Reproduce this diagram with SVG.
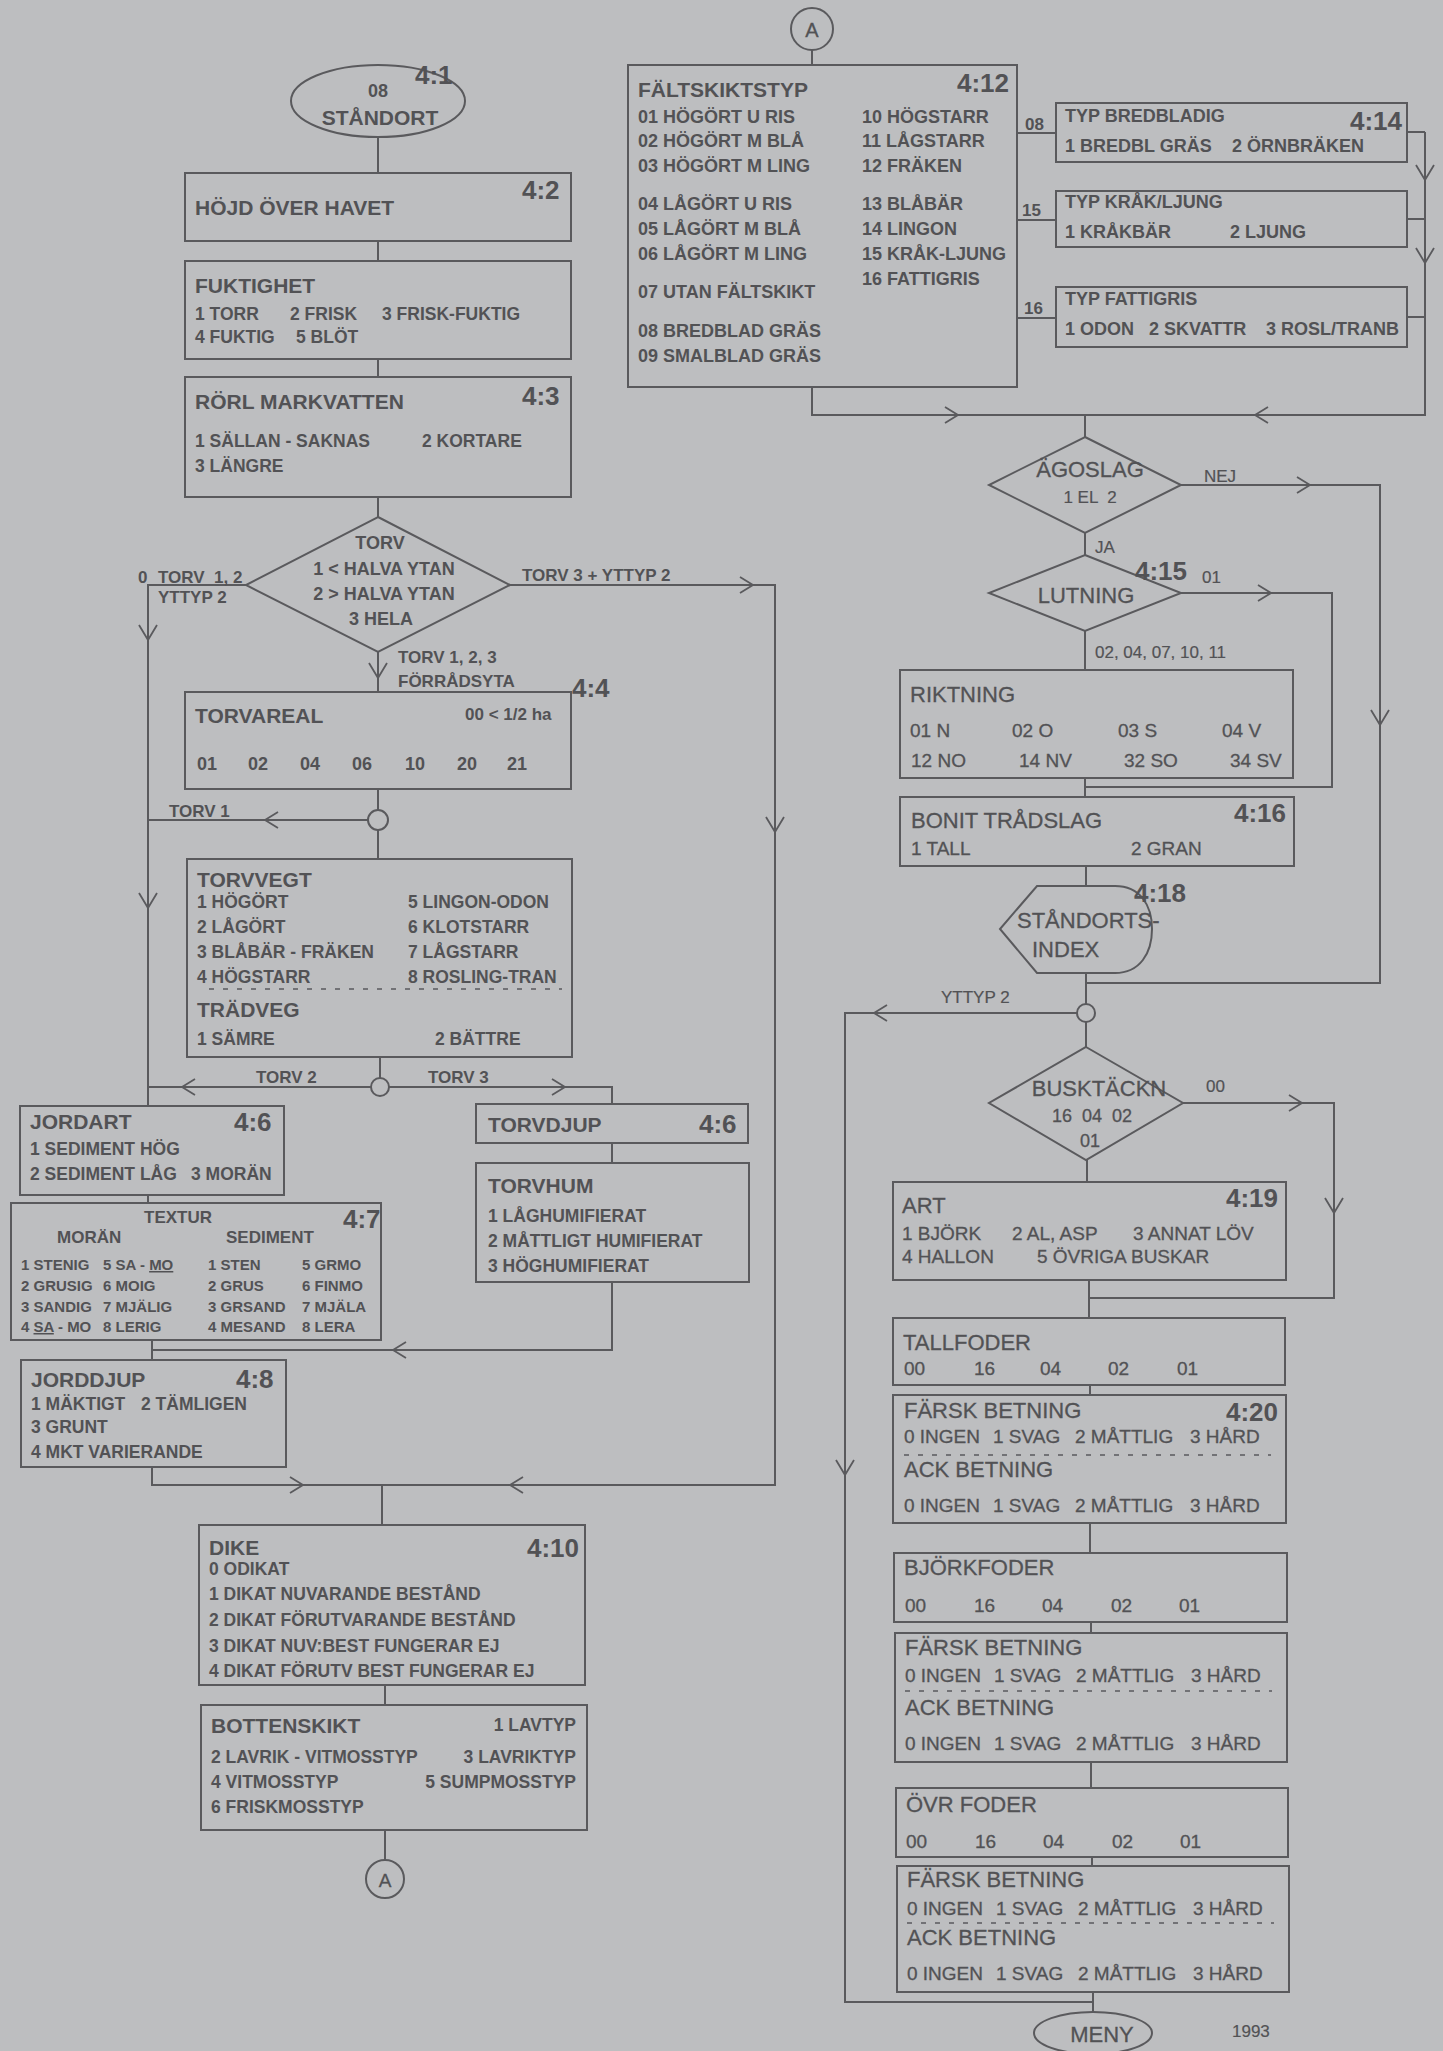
<svg xmlns="http://www.w3.org/2000/svg" xmlns:xlink="http://www.w3.org/1999/xlink" width="1443" height="2051" viewBox="0 0 1443 2051">
<style>
.box{fill:none;stroke:#5a5a5d;stroke-width:2}
.ln{fill:none;stroke:#5a5a5d;stroke-width:2}
.ch{fill:none;stroke:#5a5a5d;stroke-width:1.8}
.dash{fill:none;stroke:#5a5a5d;stroke-width:1.5;stroke-dasharray:5 9}
text{font-family:"Liberation Sans",Arial,sans-serif;fill:#525255;white-space:pre}
.t{font-size:21px;font-weight:bold}
.o{font-size:17.5px;font-weight:bold}
.s{font-size:15px;font-weight:bold}
.n{font-size:26px;font-weight:bold}
.l{font-size:17px;font-weight:bold}
.u{font-size:18px;font-weight:bold}
.rt{font-size:22px;stroke:#525255;stroke-width:0.3}
.ro{font-size:19px;stroke:#525255;stroke-width:0.3}
.rl{font-size:17px;stroke:#525255;stroke-width:0.2}
.m{text-anchor:middle}
.e{text-anchor:end}
</style>
<defs>
<path id="chR" class="ch" d="M-13,-8 L0,0 L-13,8"/>
<path id="chL" class="ch" d="M13,-8 L0,0 L13,8"/>
<path id="chD" class="ch" d="M-9,-15 L0,0 L9,-15"/>
</defs>
<rect x="0" y="0" width="1443" height="2051" fill="#bdbec0"/>

<g id="connectors">
<path class="ln" d="M378,137 V173 M378,241 V261 M378,359 V377 M378,497 V517 M378,652 V692 M378,789 V810 M378,830 V859 M380,1057 V1078"/>
<path class="ln" d="M246,585 H148 V1106"/>
<path class="ln" d="M510,585 H775 V1485 H152 V1467"/>
<path class="ln" d="M368,820 H148"/>
<path class="ln" d="M148,1087 H371 M389,1087 H612 V1104"/>
<path class="ln" d="M148,1195 V1203"/>
<path class="ln" d="M612,1143 V1163"/>
<path class="ln" d="M612,1282 V1350 H152 M152,1340 V1360"/>
<path class="ln" d="M382,1485 V1525 M385,1685 V1705 M385,1830 V1860"/>
<path class="ln" d="M812,50 V65 M812,387 V415 H1425 V132 M1407,132 H1425 M1407,219 H1425 M1407,317 H1425"/>
<path class="ln" d="M1017,133 H1056 M1017,220 H1056 M1017,318 H1056"/>
<path class="ln" d="M1085,415 V437 M1085,533 V555 M1085,631 V670 M1085,778 V797 M1086,866 V886 M1086,973 V1004 M1086,1022 V1047 M1087,1160 V1182 M1089,1280 V1318 M1090,1385 V1395 M1090,1523 V1553 M1091,1622 V1633 M1091,1762 V1788 M1092,1857 V1866 M1093,1992 V2012"/>
<path class="ln" d="M1181,485 H1380 V983 H1086"/>
<path class="ln" d="M1181,593 H1332 V787 H1085"/>
<path class="ln" d="M1077,1013 H845 V2002 H1093"/>
<path class="ln" d="M1183,1103 H1334 V1298 H1089"/>
<use xlink:href="#chR" x="753" y="585"/>
<use xlink:href="#chD" x="148" y="640"/>
<use xlink:href="#chD" x="378" y="678"/>
<use xlink:href="#chL" x="265" y="820"/>
<use xlink:href="#chD" x="148" y="908"/>
<use xlink:href="#chD" x="775" y="832"/>
<use xlink:href="#chL" x="182" y="1087"/>
<use xlink:href="#chR" x="565" y="1087"/>
<use xlink:href="#chL" x="393" y="1350"/>
<use xlink:href="#chR" x="303" y="1485"/>
<use xlink:href="#chL" x="510" y="1485"/>
<use xlink:href="#chD" x="1425" y="180"/>
<use xlink:href="#chD" x="1425" y="263"/>
<use xlink:href="#chR" x="958" y="415"/>
<use xlink:href="#chL" x="1255" y="415"/>
<use xlink:href="#chR" x="1310" y="485"/>
<use xlink:href="#chD" x="1380" y="725"/>
<use xlink:href="#chR" x="1271" y="593"/>
<use xlink:href="#chL" x="874" y="1013"/>
<use xlink:href="#chR" x="1302" y="1103"/>
<use xlink:href="#chD" x="1334" y="1213"/>
<use xlink:href="#chD" x="845" y="1475"/>
<text class="l" x="138" y="583">0</text>
<text class="l" x="158" y="583">TORV  1, 2</text>
<text class="l" x="158" y="603">YTTYP 2</text>
<text class="l" x="522" y="581">TORV 3 + YTTYP 2</text>
<text class="l" x="398" y="663">TORV 1, 2, 3</text>
<text class="l" x="398" y="687">FÖRRÅDSYTA</text>
<text class="l" x="169" y="817">TORV 1</text>
<text class="l" x="256" y="1083">TORV 2</text>
<text class="l" x="428" y="1083">TORV 3</text>
<text class="l" x="1025" y="130">08</text>
<text class="l" x="1022" y="216">15</text>
<text class="l" x="1024" y="314">16</text>
<text class="rl" x="1204" y="482">NEJ</text>
<text class="rl" x="1095" y="553">JA</text>
<text class="rl" x="1202" y="583">01</text>
<text class="rl" x="1095" y="658">02, 04, 07, 10, 11</text>
<text class="rl" x="941" y="1003">YTTYP 2</text>
<text class="rl" x="1206" y="1092">00</text>
</g>

<g id="standort">
<ellipse class="box" cx="378" cy="101" rx="87" ry="36"/>
<text class="u m" x="378" y="97">08</text>
<text class="t m" x="380" y="125">STÅNDORT</text>
<text class="n" x="415" y="84">4:1</text>
</g>

<g id="hojd">
<rect class="box" x="185" y="173" width="386" height="68"/>
<text class="t" x="195" y="215">HÖJD ÖVER HAVET</text>
<text class="n" x="522" y="199">4:2</text>
</g>

<g id="fuktighet">
<rect class="box" x="185" y="261" width="386" height="98"/>
<text class="t" x="195" y="293">FUKTIGHET</text>
<text class="o" x="195" y="320">1 TORR</text>
<text class="o" x="290" y="320">2 FRISK</text>
<text class="o" x="382" y="320">3 FRISK-FUKTIG</text>
<text class="o" x="195" y="343">4 FUKTIG</text>
<text class="o" x="296" y="343">5 BLÖT</text>
</g>

<g id="rorl">
<rect class="box" x="185" y="377" width="386" height="120"/>
<text class="t" x="195" y="409">RÖRL MARKVATTEN</text>
<text class="n" x="522" y="405">4:3</text>
<text class="o" x="195" y="447">1 SÄLLAN - SAKNAS</text>
<text class="o" x="422" y="447">2 KORTARE</text>
<text class="o" x="195" y="472">3 LÄNGRE</text>
</g>

<g id="torv">
<polygon class="box" points="378,517 510,585 378,652 246,585"/>
<text class="u m" x="380" y="549">TORV</text>
<text class="u m" x="384" y="575">1 &lt; HALVA YTAN</text>
<text class="u m" x="384" y="600">2 &gt; HALVA YTAN</text>
<text class="u m" x="381" y="625">3 HELA</text>
</g>

<g id="torvareal">
<rect class="box" x="185" y="692" width="386" height="97"/>
<text class="t" x="195" y="723">TORVAREAL</text>
<text class="l" x="465" y="720">00 &lt; 1/2 ha</text>
<text class="n" x="572" y="697">4:4</text>
<text class="u" x="197" y="770">01</text>
<text class="u" x="248" y="770">02</text>
<text class="u" x="300" y="770">04</text>
<text class="u" x="352" y="770">06</text>
<text class="u" x="405" y="770">10</text>
<text class="u" x="457" y="770">20</text>
<text class="u" x="507" y="770">21</text>
</g>

<g id="junction1"><circle class="box" cx="378" cy="820" r="10"/></g>

<g id="torvvegt">
<rect class="box" x="187" y="859" width="385" height="198"/>
<text class="t" x="197" y="887">TORVVEGT</text>
<text class="o" x="197" y="908">1 HÖGÖRT</text>
<text class="o" x="408" y="908">5 LINGON-ODON</text>
<text class="o" x="197" y="933">2 LÅGÖRT</text>
<text class="o" x="408" y="933">6 KLOTSTARR</text>
<text class="o" x="197" y="958">3 BLÅBÄR - FRÄKEN</text>
<text class="o" x="408" y="958">7 LÅGSTARR</text>
<text class="o" x="197" y="983">4 HÖGSTARR</text>
<text class="o" x="408" y="983">8 ROSLING-TRAN</text>
<line class="dash" x1="209" y1="989" x2="562" y2="989"/>
<text class="t" x="197" y="1017">TRÄDVEG</text>
<text class="o" x="197" y="1045">1 SÄMRE</text>
<text class="o" x="435" y="1045">2 BÄTTRE</text>
</g>

<g id="junction2"><circle class="box" cx="380" cy="1087" r="9"/></g>

<g id="jordart">
<rect class="box" x="20" y="1106" width="264" height="89"/>
<text class="t" x="30" y="1129">JORDART</text>
<text class="n" x="234" y="1131">4:6</text>
<text class="o" x="30" y="1155">1 SEDIMENT HÖG</text>
<text class="o" x="30" y="1180">2 SEDIMENT LÅG</text>
<text class="o" x="191" y="1180">3 MORÄN</text>
</g>

<g id="torvdjup">
<rect class="box" x="476" y="1104" width="272" height="39"/>
<text class="t" x="488" y="1132">TORVDJUP</text>
<text class="n" x="699" y="1133">4:6</text>
</g>

<g id="torvhum">
<rect class="box" x="476" y="1163" width="273" height="119"/>
<text class="t" x="488" y="1193">TORVHUM</text>
<text class="o" x="488" y="1222">1 LÅGHUMIFIERAT</text>
<text class="o" x="488" y="1247">2 MÅTTLIGT HUMIFIERAT</text>
<text class="o" x="488" y="1272">3 HÖGHUMIFIERAT</text>
</g>

<g id="textur">
<rect class="box" x="11" y="1203" width="370" height="137"/>
<text class="l m" x="178" y="1223">TEXTUR</text>
<text class="n" x="343" y="1228">4:7</text>
<text class="l" x="57" y="1243">MORÄN</text>
<text class="l" x="226" y="1243">SEDIMENT</text>
<text class="s" x="21" y="1270">1 STENIG</text>
<text class="s" x="103" y="1270">5 SA - <tspan text-decoration="underline">MO</tspan></text>
<text class="s" x="208" y="1270">1 STEN</text>
<text class="s" x="302" y="1270">5 GRMO</text>
<text class="s" x="21" y="1291">2 GRUSIG</text>
<text class="s" x="103" y="1291">6 MOIG</text>
<text class="s" x="208" y="1291">2 GRUS</text>
<text class="s" x="302" y="1291">6 FINMO</text>
<text class="s" x="21" y="1312">3 SANDIG</text>
<text class="s" x="103" y="1312">7 MJÄLIG</text>
<text class="s" x="208" y="1312">3 GRSAND</text>
<text class="s" x="302" y="1312">7 MJÄLA</text>
<text class="s" x="21" y="1332">4 <tspan text-decoration="underline">SA</tspan> - MO</text>
<text class="s" x="103" y="1332">8 LERIG</text>
<text class="s" x="208" y="1332">4 MESAND</text>
<text class="s" x="302" y="1332">8 LERA</text>
</g>

<g id="jorddjup">
<rect class="box" x="21" y="1360" width="265" height="107"/>
<text class="t" x="31" y="1387">JORDDJUP</text>
<text class="n" x="236" y="1388">4:8</text>
<text class="o" x="31" y="1410">1 MÄKTIGT</text>
<text class="o" x="141" y="1410">2 TÄMLIGEN</text>
<text class="o" x="31" y="1433">3 GRUNT</text>
<text class="o" x="31" y="1458">4 MKT VARIERANDE</text>
</g>

<g id="dike">
<rect class="box" x="199" y="1525" width="386" height="160"/>
<text class="t" x="209" y="1555">DIKE</text>
<text class="n" x="527" y="1557">4:10</text>
<text class="o" x="209" y="1575">0 ODIKAT</text>
<text class="o" x="209" y="1600">1 DIKAT NUVARANDE BESTÅND</text>
<text class="o" x="209" y="1626">2 DIKAT FÖRUTVARANDE BESTÅND</text>
<text class="o" x="209" y="1652">3 DIKAT NUV:BEST FUNGERAR EJ</text>
<text class="o" x="209" y="1677">4 DIKAT FÖRUTV BEST FUNGERAR EJ</text>
</g>

<g id="bottenskikt">
<rect class="box" x="201" y="1705" width="386" height="125"/>
<text class="t" x="211" y="1733">BOTTENSKIKT</text>
<text class="o e" x="576" y="1731">1 LAVTYP</text>
<text class="o" x="211" y="1763">2 LAVRIK - VITMOSSTYP</text>
<text class="o e" x="576" y="1763">3 LAVRIKTYP</text>
<text class="o" x="211" y="1788">4 VITMOSSTYP</text>
<text class="o e" x="576" y="1788">5 SUMPMOSSTYP</text>
<text class="o" x="211" y="1813">6 FRISKMOSSTYP</text>
</g>

<g id="connA-bottom">
<circle class="box" cx="385" cy="1879" r="19"/>
<text class="rt m" x="385" y="1887" style="font-size:19px">A</text>
</g>

<g id="connA-top">
<circle class="box" cx="812" cy="29" r="21"/>
<text class="rt m" x="812" y="37" style="font-size:20px">A</text>
</g>

<g id="faltskiktstyp">
<rect class="box" x="628" y="65" width="389" height="322"/>
<text class="t" x="638" y="97">FÄLTSKIKTSTYP</text>
<text class="n" x="957" y="92">4:12</text>
<text class="u" x="638" y="123">01 HÖGÖRT U RIS</text>
<text class="u" x="638" y="147">02 HÖGÖRT M BLÅ</text>
<text class="u" x="638" y="172">03 HÖGÖRT M LING</text>
<text class="u" x="638" y="210">04 LÅGÖRT U RIS</text>
<text class="u" x="638" y="235">05 LÅGÖRT M BLÅ</text>
<text class="u" x="638" y="260">06 LÅGÖRT M LING</text>
<text class="u" x="638" y="298">07 UTAN FÄLTSKIKT</text>
<text class="u" x="638" y="337">08 BREDBLAD GRÄS</text>
<text class="u" x="638" y="362">09 SMALBLAD GRÄS</text>
<text class="u" x="862" y="123">10 HÖGSTARR</text>
<text class="u" x="862" y="147">11 LÅGSTARR</text>
<text class="u" x="862" y="172">12 FRÄKEN</text>
<text class="u" x="862" y="210">13 BLÅBÄR</text>
<text class="u" x="862" y="235">14 LINGON</text>
<text class="u" x="862" y="260">15 KRÅK-LJUNG</text>
<text class="u" x="862" y="285">16 FATTIGRIS</text>
</g>

<g id="typ-bredbladig">
<rect class="box" x="1056" y="103" width="351" height="59"/>
<text class="u" x="1065" y="122">TYP BREDBLADIG</text>
<text class="n" x="1350" y="130">4:14</text>
<text class="u" x="1065" y="152">1 BREDBL GRÄS</text>
<text class="u" x="1232" y="152">2 ÖRNBRÄKEN</text>
</g>

<g id="typ-krakljung">
<rect class="box" x="1056" y="191" width="351" height="56"/>
<text class="u" x="1065" y="208">TYP KRÅK/LJUNG</text>
<text class="u" x="1065" y="238">1 KRÅKBÄR</text>
<text class="u" x="1230" y="238">2 LJUNG</text>
</g>

<g id="typ-fattigris">
<rect class="box" x="1056" y="287" width="351" height="60"/>
<text class="u" x="1065" y="305">TYP FATTIGRIS</text>
<text class="u" x="1065" y="335">1 ODON</text>
<text class="u" x="1149" y="335">2 SKVATTR</text>
<text class="u" x="1266" y="335">3 ROSL/TRANB</text>
</g>

<g id="agoslag">
<polygon class="box" points="1085,437 1181,485 1085,533 989,485"/>
<text class="rt m" x="1090" y="477">ÄGOSLAG</text>
<text class="rl m" x="1090" y="503">1 EL  2</text>
</g>

<g id="lutning">
<polygon class="box" points="1085,555 1181,593 1085,631 989,593"/>
<text class="rt m" x="1086" y="603">LUTNING</text>
<text class="n" x="1135" y="580">4:15</text>
</g>

<g id="riktning">
<rect class="box" x="900" y="670" width="393" height="108"/>
<text class="rt" x="910" y="702">RIKTNING</text>
<text class="ro" x="910" y="737">01 N</text>
<text class="ro" x="1012" y="737">02 O</text>
<text class="ro" x="1118" y="737">03 S</text>
<text class="ro" x="1222" y="737">04 V</text>
<text class="ro" x="911" y="767">12 NO</text>
<text class="ro" x="1019" y="767">14 NV</text>
<text class="ro" x="1124" y="767">32 SO</text>
<text class="ro" x="1230" y="767">34 SV</text>
</g>

<g id="bonit">
<rect class="box" x="900" y="797" width="394" height="69"/>
<text class="rt" x="911" y="828">BONIT TRÅDSLAG</text>
<text class="n" x="1234" y="822">4:16</text>
<text class="ro" x="911" y="855">1 TALL</text>
<text class="ro" x="1131" y="855">2 GRAN</text>
</g>

<g id="standortsindex">
<path class="box" d="M1037,886 L1115,886 C1140,886 1152,905 1152,929 C1152,953 1140,973 1115,973 L1037,973 L1000,929 Z"/>
<text class="rt" x="1017" y="928">STÅNDORTS-</text>
<text class="rt" x="1032" y="957">INDEX</text>
<text class="n" x="1134" y="902">4:18</text>
</g>

<g id="junction3"><circle class="box" cx="1086" cy="1013" r="9"/></g>

<g id="busktackn">
<polygon class="box" points="1086,1047 1183,1103 1086,1160 989,1103"/>
<text class="rt m" x="1099" y="1096">BUSKTÄCKN</text>
<text class="ro m" x="1092" y="1122" style="font-size:18px">16  04  02</text>
<text class="ro m" x="1090" y="1147" style="font-size:18px">01</text>
</g>

<g id="art">
<rect class="box" x="893" y="1182" width="393" height="98"/>
<text class="rt" x="902" y="1213">ART</text>
<text class="n" x="1226" y="1207">4:19</text>
<text class="ro" x="902" y="1240">1 BJÖRK</text>
<text class="ro" x="1012" y="1240">2 AL, ASP</text>
<text class="ro" x="1133" y="1240">3 ANNAT LÖV</text>
<text class="ro" x="902" y="1263">4 HALLON</text>
<text class="ro" x="1037" y="1263">5 ÖVRIGA BUSKAR</text>
</g>

<g id="tallfoder">
<rect class="box" x="893" y="1318" width="392" height="67"/>
<text class="rt" x="903" y="1350">TALLFODER</text>
<text class="ro" x="904" y="1375">00</text>
<text class="ro" x="974" y="1375">16</text>
<text class="ro" x="1040" y="1375">04</text>
<text class="ro" x="1108" y="1375">02</text>
<text class="ro" x="1177" y="1375">01</text>
</g>

<g id="betning1">
<rect class="box" x="893" y="1395" width="393" height="128"/>
<text class="rt" x="904" y="1418">FÄRSK BETNING</text>
<text class="n" x="1226" y="1421">4:20</text>
<text class="ro" x="904" y="1443">0 INGEN</text>
<text class="ro" x="993" y="1443">1 SVAG</text>
<text class="ro" x="1075" y="1443">2 MÅTTLIG</text>
<text class="ro" x="1190" y="1443">3 HÅRD</text>
<line class="dash" x1="904" y1="1455" x2="1271" y2="1455"/>
<text class="rt" x="904" y="1477">ACK BETNING</text>
<text class="ro" x="904" y="1512">0 INGEN</text>
<text class="ro" x="993" y="1512">1 SVAG</text>
<text class="ro" x="1075" y="1512">2 MÅTTLIG</text>
<text class="ro" x="1190" y="1512">3 HÅRD</text>
</g>

<g id="bjorkfoder">
<rect class="box" x="894" y="1553" width="393" height="69"/>
<text class="rt" x="904" y="1575">BJÖRKFODER</text>
<text class="ro" x="905" y="1612">00</text>
<text class="ro" x="974" y="1612">16</text>
<text class="ro" x="1042" y="1612">04</text>
<text class="ro" x="1111" y="1612">02</text>
<text class="ro" x="1179" y="1612">01</text>
</g>

<g id="betning2">
<rect class="box" x="895" y="1633" width="392" height="129"/>
<text class="rt" x="905" y="1655">FÄRSK BETNING</text>
<text class="ro" x="905" y="1682">0 INGEN</text>
<text class="ro" x="994" y="1682">1 SVAG</text>
<text class="ro" x="1076" y="1682">2 MÅTTLIG</text>
<text class="ro" x="1191" y="1682">3 HÅRD</text>
<line class="dash" x1="905" y1="1691" x2="1272" y2="1691"/>
<text class="rt" x="905" y="1715">ACK BETNING</text>
<text class="ro" x="905" y="1750">0 INGEN</text>
<text class="ro" x="994" y="1750">1 SVAG</text>
<text class="ro" x="1076" y="1750">2 MÅTTLIG</text>
<text class="ro" x="1191" y="1750">3 HÅRD</text>
</g>

<g id="ovrfoder">
<rect class="box" x="896" y="1788" width="392" height="69"/>
<text class="rt" x="906" y="1812">ÖVR FODER</text>
<text class="ro" x="906" y="1848">00</text>
<text class="ro" x="975" y="1848">16</text>
<text class="ro" x="1043" y="1848">04</text>
<text class="ro" x="1112" y="1848">02</text>
<text class="ro" x="1180" y="1848">01</text>
</g>

<g id="betning3">
<rect class="box" x="897" y="1866" width="392" height="126"/>
<text class="rt" x="907" y="1887">FÄRSK BETNING</text>
<text class="ro" x="907" y="1915">0 INGEN</text>
<text class="ro" x="996" y="1915">1 SVAG</text>
<text class="ro" x="1078" y="1915">2 MÅTTLIG</text>
<text class="ro" x="1193" y="1915">3 HÅRD</text>
<line class="dash" x1="907" y1="1923" x2="1274" y2="1923"/>
<text class="rt" x="907" y="1945">ACK BETNING</text>
<text class="ro" x="907" y="1980">0 INGEN</text>
<text class="ro" x="996" y="1980">1 SVAG</text>
<text class="ro" x="1078" y="1980">2 MÅTTLIG</text>
<text class="ro" x="1193" y="1980">3 HÅRD</text>
</g>

<g id="meny">
<ellipse class="box" cx="1093" cy="2033" rx="59" ry="21"/>
<text class="rt m" x="1102" y="2042">MENY</text>
<text class="rl" x="1232" y="2037">1993</text>
</g>
</svg>
